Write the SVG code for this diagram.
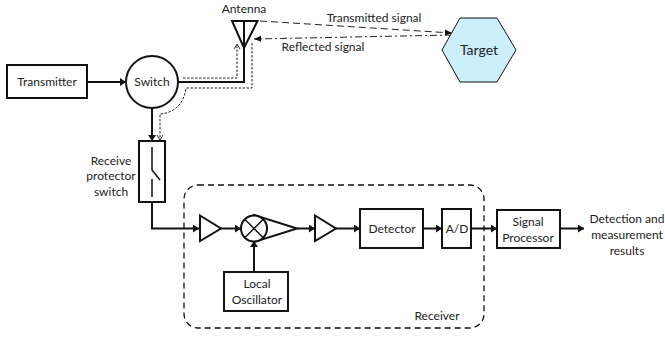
<svg xmlns="http://www.w3.org/2000/svg" width="665" height="337" viewBox="0 0 665 337">
<style>
text{font-family:"Lato","Liberation Sans",sans-serif;font-size:12px;fill:#222;text-anchor:middle}
.b{fill:#fff;stroke:#111;stroke-width:2}
.n{fill:none;stroke:#111;stroke-width:2}
.c{fill:none;stroke:#111;stroke-width:2;marker-end:url(#a)}
.d{fill:none;stroke:#222;stroke-width:1;stroke-dasharray:2.500 1.500}
</style>
<defs>
<marker id="a" markerUnits="userSpaceOnUse" markerWidth="7" markerHeight="8" refX="6" refY="4" orient="auto"><path d="M0 0L6 4L0 8z" fill="#111"/></marker>
<marker id="o" markerUnits="userSpaceOnUse" markerWidth="8" markerHeight="8" refX="6" refY="4" orient="auto"><path d="M1 1L6 4L1 7" fill="none" stroke="#333" stroke-width="1"/></marker>
<marker id="s" markerUnits="userSpaceOnUse" markerWidth="8" markerHeight="8" refX="7" refY="4" orient="auto"><path d="M0 1L7 4L0 7z" fill="#111"/></marker>
</defs>
<g id="connectors">
<path class="c" d="M87 82H126"/>
<path class="n" d="M178 82H244V22"/>
<path class="c" d="M152 108V141"/>
<path class="c" d="M152 203V228.500H199"/>
<path class="c" d="M221 228.500H241"/>
<path class="c" d="M297 228.500H315"/>
<path class="c" d="M336 228.500H360"/>
<path class="c" d="M254 272V241"/>
<path class="c" d="M423 228.500H442"/>
<path class="c" d="M471 228.500H497"/>
<path class="c" d="M560 228.500H584"/>
<path class="d" d="M183 78H237V44" marker-end="url(#o)"/>
<path class="d" d="M252 43V88H186C184 104 174 113 160 114V140" marker-end="url(#o)"/>
<path d="M260 21L452 33" fill="none" stroke="#222" stroke-width="1" stroke-dasharray="7 4" marker-end="url(#s)"/>
<path d="M452 35L254 39" fill="none" stroke="#222" stroke-width="1" stroke-dasharray="7 3 2 3" marker-end="url(#s)"/>
</g>
<g id="transmitter"><rect class="b" x="7" y="65" width="80" height="33"/><text x="47" y="86">Transmitter</text></g>
<g id="switch"><circle class="b" cx="152" cy="82" r="26"/><text x="152" y="86">Switch</text></g>
<g id="antenna"><path class="n" d="M232 21H257.500L244 48zM244 21V48"/><text x="244" y="13">Antenna</text></g>
<g id="target"><path d="M460 18H497L516 50L497 82H460L442 50z" fill="#cdeefb" stroke="#111" stroke-width="1"/><text x="479" y="55" style="font-size:14px">Target</text></g>
<g id="labels"><text x="374" y="22">Transmitted signal</text><text x="323" y="51">Reflected signal</text></g>
<g id="protector"><rect class="b" x="139" y="141" width="26" height="61"/><path class="n" d="M152 147V170L160 180M152 179V197" style="stroke-width:1.500"/><text x="111" y="165">Receive</text><text x="111" y="180">protector</text><text x="111" y="196">switch</text></g>
<g id="receiver"><rect x="184" y="185" width="300" height="143" rx="14" fill="none" stroke="#111" stroke-width="1.300" stroke-dasharray="6 4"/><text x="437" y="320">Receiver</text></g>
<g id="amp1"><path class="b" d="M200 215.500L221 228.500L200 241z"/></g>
<g id="mixer"><path class="b" d="M254 215L297 228.500L254 242z"/><circle class="b" cx="254" cy="228.500" r="13"/><path class="n" d="M245 219.500L263 237.500M263 219.500L245 237.500" style="stroke-width:1.500"/></g>
<g id="amp2"><path class="b" d="M315 215.500L336 228.500L315 241z"/></g>
<g id="detector"><rect class="b" x="360" y="209" width="63" height="39"/><text x="392" y="233">Detector</text></g>
<g id="ad"><rect class="b" x="442" y="209" width="29" height="39"/><text x="457" y="233">A/D</text></g>
<g id="processor"><rect class="b" x="497" y="210" width="63" height="38"/><text x="528" y="226">Signal</text><text x="528" y="242">Processor</text></g>
<g id="oscillator"><rect class="b" x="224" y="272" width="64" height="39"/><text x="257" y="288">Local</text><text x="257" y="304">Oscillator</text></g>
<g id="results"><text x="627" y="223">Detection and</text><text x="627" y="239">measurement</text><text x="627" y="255">results</text></g>
</svg>
